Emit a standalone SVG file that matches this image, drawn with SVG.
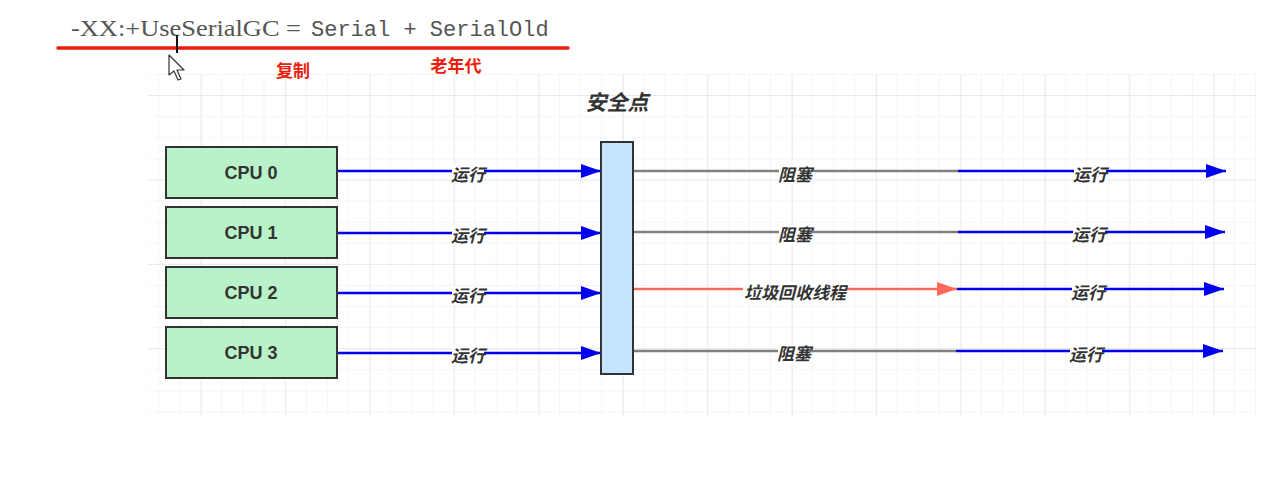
<svg xmlns="http://www.w3.org/2000/svg" width="1269" height="485" viewBox="0 0 1269 485">
<style>
.cpu rect{fill:#b9f2c8;stroke:#333;stroke-width:2}
.cpu text{font-family:"Liberation Sans","Noto Sans",sans-serif;font-weight:bold;font-size:18px;fill:#333;text-anchor:middle}
.lbl{font-family:"Noto Sans CJK SC","Noto Sans",sans-serif;font-weight:bold;font-style:italic;font-size:17px;fill:#333;text-anchor:middle}
.ttl{font-size:21px}
.lb{fill:#fff}
.blue{stroke:#0000ee;stroke-width:2.5;fill:none}
.gray{stroke:#808080;stroke-width:2.5;fill:none}
.red{stroke:#ff6a5a;stroke-width:2.5;fill:none}
.note{font-family:"Noto Sans CJK SC",sans-serif;font-weight:bold;font-size:17px;fill:#ee1c0c;text-anchor:middle}
</style>
<defs>
<pattern id="g1" x="158" y="74" width="21.1" height="21.1" patternUnits="userSpaceOnUse">
<path d="M0 0V21.1M0 0H21.1" stroke="#ececec" stroke-width="1" fill="none"/>
</pattern>
<pattern id="g2" x="201" y="95" width="84.4" height="84.4" patternUnits="userSpaceOnUse">
<path d="M0 0V84.4M0 0H84.4" stroke="#dedede" stroke-width="1" fill="none"/>
</pattern>
<marker id="ab" markerUnits="userSpaceOnUse" markerWidth="22" markerHeight="16" refX="20" refY="7" orient="auto">
<path d="M0 0L20 7L0 14Z" fill="#0000ee"/>
</marker>
<marker id="ar" markerUnits="userSpaceOnUse" markerWidth="22" markerHeight="16" refX="20" refY="7" orient="auto">
<path d="M0 0L20 7L0 14Z" fill="#ff6a5a"/>
</marker>
</defs>
<rect width="1269" height="485" fill="#fff"/>
<rect x="148" y="74" width="1109" height="342" fill="url(#g1)"/>
<rect x="148" y="74" width="1109" height="342" fill="url(#g2)"/>

<g id="header">
<text x="71" y="36" font-family="Liberation Serif,serif" font-size="23" fill="#555" textLength="230" lengthAdjust="spacingAndGlyphs">-XX:+UseSerialGC =</text>
<text x="311" y="36" font-family="Liberation Mono,monospace" font-size="22" fill="#555">Serial + SerialOld</text>
<line x1="58" y1="48" x2="568" y2="48" stroke="#ee1c0c" stroke-width="3.5" stroke-linecap="round"/>
<text class="note" x="293" y="77">复制</text>
<text class="note" x="456" y="72">老年代</text>
<line x1="177" y1="35" x2="177" y2="53" stroke="#111" stroke-width="2"/>
<path d="M169 55L169 75L174 71L178 80L181 79L177 70L184 70Z" fill="#fff" stroke="#333" stroke-width="1.2" stroke-linejoin="round"/>
</g>

<g id="title"><text class="lbl ttl" x="617" y="110">安全点</text></g>

<g id="cpu0" class="cpu"><rect x="166" y="147" width="171" height="51"/><text x="251" y="179">CPU 0</text></g>
<g id="cpu1" class="cpu"><rect x="166" y="207" width="171" height="51"/><text x="251" y="239">CPU 1</text></g>
<g id="cpu2" class="cpu"><rect x="166" y="267" width="171" height="51"/><text x="251" y="299">CPU 2</text></g>
<g id="cpu3" class="cpu"><rect x="166" y="327" width="171" height="51"/><text x="251" y="359">CPU 3</text></g>

<g id="connectors">
<line class="blue" x1="338" y1="171" x2="601" y2="171" marker-end="url(#ab)"/>
<line class="blue" x1="338" y1="233" x2="601" y2="233" marker-end="url(#ab)"/>
<line class="blue" x1="338" y1="293" x2="601" y2="293" marker-end="url(#ab)"/>
<line class="blue" x1="338" y1="353" x2="601" y2="353" marker-end="url(#ab)"/>
<line class="gray" x1="634" y1="171" x2="958" y2="171"/>
<line class="gray" x1="634" y1="232" x2="958" y2="232"/>
<line class="red" x1="634" y1="289" x2="957" y2="289" marker-end="url(#ar)"/>
<line class="gray" x1="634" y1="351" x2="956" y2="351"/>
<line class="blue" x1="958" y1="171" x2="1226" y2="171" marker-end="url(#ab)"/>
<line class="blue" x1="958" y1="232" x2="1225" y2="232" marker-end="url(#ab)"/>
<line class="blue" x1="957" y1="289" x2="1224" y2="289" marker-end="url(#ab)"/>
<line class="blue" x1="956" y1="351" x2="1223" y2="351" marker-end="url(#ab)"/>

<rect class="lb" x="452" y="165" width="32" height="19"/><text class="lbl" x="468" y="181">运行</text>
<rect class="lb" x="452" y="226" width="32" height="19"/><text class="lbl" x="468" y="242">运行</text>
<rect class="lb" x="452" y="286" width="32" height="19"/><text class="lbl" x="468" y="302">运行</text>
<rect class="lb" x="452" y="346" width="32" height="19"/><text class="lbl" x="468" y="362">运行</text>
<rect class="lb" x="779" y="165" width="32" height="19"/><text class="lbl" x="795" y="181">阻塞</text>
<rect class="lb" x="779" y="225" width="32" height="19"/><text class="lbl" x="795" y="241">阻塞</text>
<rect class="lb" x="743" y="283" width="104" height="19"/><text class="lbl" x="795" y="299">垃圾回收线程</text>
<rect class="lb" x="778" y="344" width="32" height="19"/><text class="lbl" x="794" y="360">阻塞</text>
<rect class="lb" x="1074" y="165" width="32" height="19"/><text class="lbl" x="1090" y="181">运行</text>
<rect class="lb" x="1073" y="225" width="32" height="19"/><text class="lbl" x="1089" y="241">运行</text>
<rect class="lb" x="1072" y="283" width="32" height="19"/><text class="lbl" x="1088" y="299">运行</text>
<rect class="lb" x="1070" y="345" width="32" height="19"/><text class="lbl" x="1086" y="361">运行</text>
</g>

<g id="safepoint"><rect x="601" y="142" width="32" height="232" fill="#c6e4fb" stroke="#333" stroke-width="2"/></g>
</svg>
